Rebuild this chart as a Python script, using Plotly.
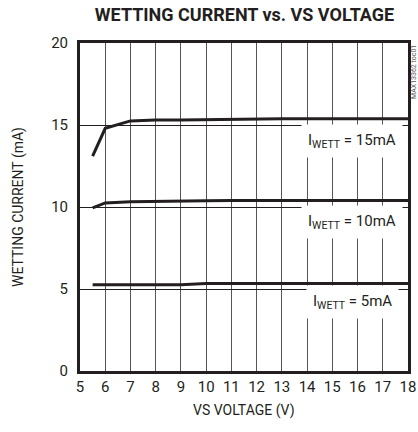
import plotly.graph_objects as go

# Data
vs_voltage = [5.5, 6, 7, 8, 9, 10, 11, 12, 13, 14, 15, 16, 17, 18]
i_15ma = [13.1, 14.8, 15.25, 15.3, 15.3, 15.32, 15.38, 15.38, 15.38, 15.38, 15.38, 15.38, 15.38, 15.38]
i_10ma = [9.95, 10.25, 10.32, 10.33, 10.33, 10.38, 10.4, 10.4, 10.4, 10.4, 10.4, 10.4, 10.4, 10.4]
i_5ma = [5.26, 5.26, 5.26, 5.26, 5.26, 5.33, 5.34, 5.34, 5.34, 5.34, 5.34, 5.34, 5.34, 5.34]

labels = ["I<sub>WETT</sub> = 15mA", "I<sub>WETT</sub> = 10mA", "I<sub>WETT</sub> = 5mA"]
label_x = [15.8, 15.8, 15.8]
label_y = [14.0, 9.1, 4.2]

x_ticks = list(range(5, 19))
y_ticks = [0, 5, 10, 15, 20]

FONT = "Roboto, Liberation Sans, Arial, sans-serif"
INK = "#231f20"

fig = go.Figure()
for ys in (i_15ma, i_10ma, i_5ma):
    fig.add_trace(go.Scatter(x=vs_voltage, y=ys, mode="lines",
                             line=dict(color=INK, width=3), showlegend=False,
                             hoverinfo="skip"))

for t, x, y in zip(labels, label_x, label_y):
    fig.add_annotation(x=x, y=y, text=t, showarrow=False, bgcolor="white",
                       borderpad=6, font=dict(family=FONT, size=15, color=INK))

fig.add_annotation(x=1.0, y=1.0, xref="paper", yref="paper", text="MAX13362 toc01",
                   textangle=-90, showarrow=False, xanchor="left", yanchor="top",
                   xshift=0, font=dict(family=FONT, size=7, color="#555"))

# axis titles
fig.add_annotation(x=0.5, y=0, xref="paper", yref="paper", text="VS VOLTAGE (V)",
                   showarrow=False, yanchor="middle", yshift=-39,
                   font=dict(family=FONT, size=14, color=INK))
fig.add_annotation(x=0, y=0.5, xref="paper", yref="paper", text="WETTING CURRENT (mA)",
                   showarrow=False, textangle=-90, xanchor="center", xshift=-62,
                   font=dict(family=FONT, size=14, color=INK))

fig.update_layout(
    width=418, height=432,
    margin=dict(l=80, r=10, t=43, b=61, autoexpand=False),
    paper_bgcolor="white", plot_bgcolor="white",
    title=dict(text="<b>WETTING CURRENT vs. VS VOLTAGE</b>", x=0.585, xanchor="center",
               y=0.965, yanchor="middle",
               font=dict(family=FONT, size=18, color=INK)),
    font=dict(family=FONT, color=INK),
    hovermode=False,
)
fig.update_xaxes(range=[5, 18], tickvals=x_ticks, ticks="", showline=True, mirror=True,
                 linecolor=INK, linewidth=3, showgrid=True, gridcolor="#555",
                 gridwidth=1.2, zeroline=False, tickfont=dict(size=15), automargin=False)
fig.update_yaxes(range=[0, 20], tickvals=y_ticks, ticks="", showline=True, mirror=True,
                 linecolor=INK, linewidth=3, showgrid=True, gridcolor=INK,
                 gridwidth=1, zeroline=False, tickfont=dict(size=15), automargin=False,
                 ticklabelstandoff=6)

fig.write_html("out.html", config={"displayModeBar": False},
               post_script="document.body.style.margin='0';")
